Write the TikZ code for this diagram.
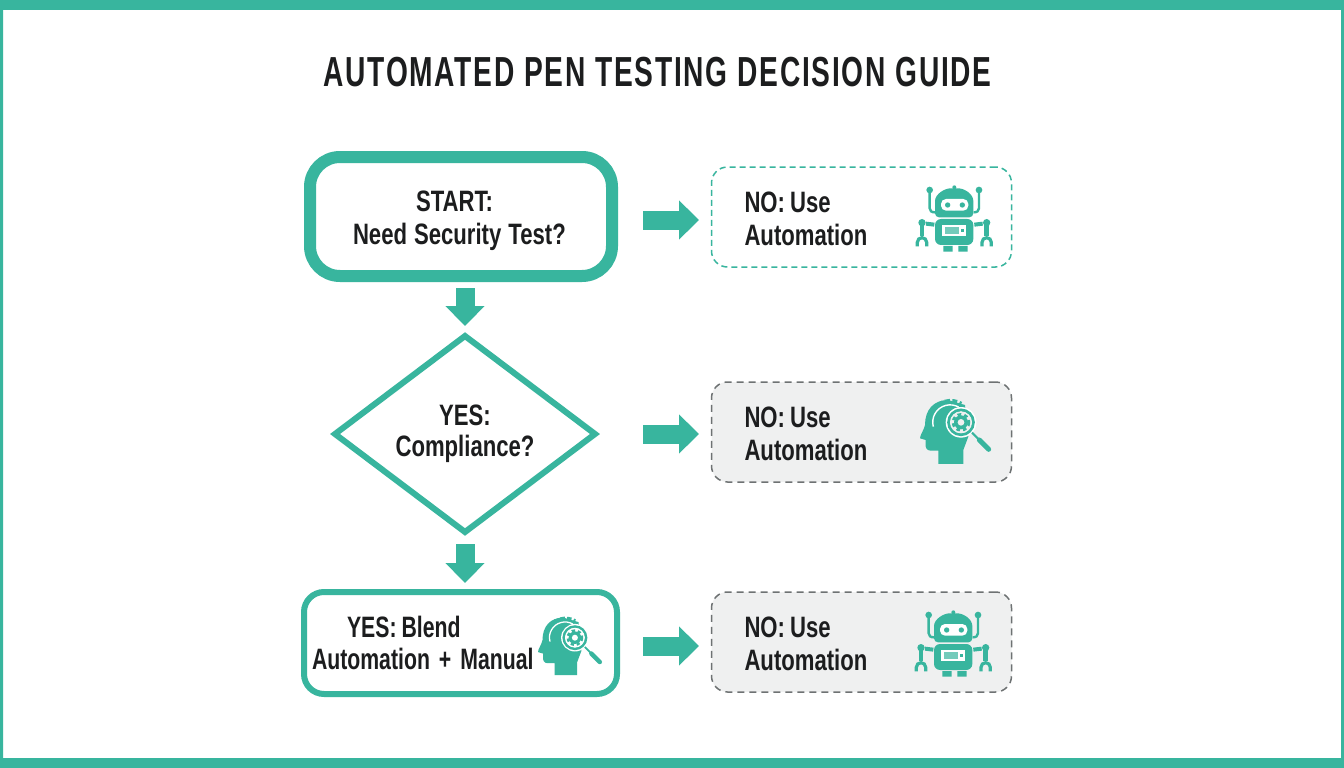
\documentclass[tikz,border=0pt]{standalone}
\usepackage{fontspec}
\setmainfont[FakeStretch=0.75]{Liberation Sans}
\newfontfamily\titlefont[FakeStretch=0.67,LetterSpace=4.2]{Liberation Sans}
\newfontfamily\narrowfont[FakeStretch=0.72]{Liberation Sans}
\usetikzlibrary{shapes.geometric,arrows.meta,calc}
\definecolor{tealc}{HTML}{38B59E}
\definecolor{inkc}{HTML}{1C1D1E}
\definecolor{grayfill}{HTML}{EFF0F0}
\definecolor{graydash}{HTML}{6E7273}
\newcommand{\tpad}[1]{\vrule width 0pt height #1\relax}
\newcommand{\tightwords}[1]{\setlength{\spaceskip}{#1}}
\tikzset{
  x=1pt,y=-1pt,
  lbl/.style={font=\fontsize{29.5pt}{33pt}\selectfont\bfseries,text=inkc},
  nobox/.style={lbl,rectangle,rounded corners=16pt,line width=1.5pt,outer sep=0pt,
    minimum width=300pt,text width=234pt,inner xsep=33pt,align=left,anchor=center},
  nobluebox/.style={nobox,draw=tealc,dash pattern=on 6pt off 4pt,fill=white,minimum height=100pt},
  nograybox/.style={nobox,draw=graydash,dash pattern=on 7pt off 5pt,fill=grayfill,minimum height=100pt},
  blockarrow/.style={draw=tealc,line width=19pt,-{Triangle[width=38pt,length=20pt]}},
  ic/.style={fill=tealc,draw=none},
}
\newcommand{\roboticon}[2]{%
\begin{scope}[shift={(#1,#2)},x=0.3333pt,y=-0.3333pt]
  \fill[ic] (148,22) circle[radius=6];
  \fill[ic,rounded corners=4pt] (90,112) -- (90,75) .. controls (90,42) and (120,25) .. (148,25) .. controls (178,25) and (205,42) .. (205,75) -- (205,112) -- cycle;
  \fill[white,rounded corners=5pt] (108,57) rectangle (190,92);
  \fill[ic] (128,75) circle[radius=8] (172,75) circle[radius=8];
  \fill[ic,rounded corners=6pt] (90,117) rectangle (205,195);
  \fill[white] (112,135) rectangle (183,168);
  \fill[tealc!70!white] (119,142) rectangle (162,161);
  \fill[ic] (168,146) rectangle (176,157);
  \fill[ic] (115,198) rectangle (143,215) (160,198) rectangle (188,215);
  \foreach \s in {-1,1}{
    \fill[ic] ({148+\s*74},30) circle[radius=10];
    \draw[tealc,line width=2.4pt] ({148+\s*74},30) -- ({148+\s*74},85) .. controls ({148+\s*74},93) and ({148+\s*68},97) .. ({148+\s*58},97);
    \fill[ic] ({148+\s*97},128) circle[radius=11];
    \draw[tealc,line width=4pt] ({148+\s*85},131) -- ({148+\s*60},134);
    \draw[tealc,line width=4.5pt] ({148+\s*97},135) -- ({148+\s*97},168);
    \draw[tealc,line width=3.2pt] ({148+\s*97-14},199) -- ({148+\s*97-14},187) arc[start angle=180,end angle=360,radius=14] -- ({148+\s*97+14},199);
  }
\end{scope}}
\newcommand{\headicon}[4]{%
\begin{scope}[shift={(#1,#2)},x=#3*0.3333pt,y=-#3*0.3333pt]
  \fill[ic] (85,222) -- (85,182) -- (62,182) .. controls (50,182) and (45,172) .. (47,160) -- (47,150) -- (30,145) .. controls (30,135) and (42,120) .. (45,105) .. controls (45,60) and (70,30) .. (115,30) -- (165,45) -- (175,140) -- (160,180) -- (160,222) -- cycle;
  \draw[tealc,line width=#3*3.4pt,dash pattern=on #3*5pt off #3*2.5pt] (59,80) arc[start angle=195,end angle=300,radius=65];
  \draw[white,line width=#3*1.4pt] (70,110) arc[start angle=165,end angle=300,radius=52];
  \fill[white] (153,97) circle[radius=46];
  \draw[tealc,line width=#3*3pt] (153,97) circle[radius=37];
  \fill[#4] (153,97) circle[radius=33];
  \draw[tealc,line width=#3*2.6pt,dash pattern=on #3*3.6pt off #3*3.2pt] (153,97) circle[radius=24];
  \fill[ic] (153,97) circle[radius=21];
  \fill[#4] (153,97) circle[radius=10];
  \draw[tealc,line width=#3*2pt] (186,128) -- (208,150);
  \draw[tealc,line width=#3*5pt,line cap=round] (208,150) -- (236,178);
\end{scope}}
\begin{document}
\begin{tikzpicture}
\useasboundingbox (0,0) rectangle (1344,768);
\fill[white] (0,0) rectangle (1344,768);
\fill[tealc] (0,0) rectangle (1344,10) (0,758) rectangle (1344,768) (0,0) rectangle (3,768) (1341,0) rectangle (1344,768);

\node[font=\titlefont\fontsize{42pt}{46pt}\selectfont\bfseries,text=inkc] (title) at (657.5,72) {AUTOMATED PEN TESTING DECISION GUIDE};

\node[lbl,draw=tealc,line width=12pt,rounded corners=30pt,rectangle,outer sep=0pt,fill=white,
  minimum width=302pt,minimum height=119pt,text width=240pt,inner xsep=31pt,align=left] (start) at (461,216.5)
  {\tightwords{7pt}\tpad{30pt}\hspace*{75pt}START:\\\hspace*{12pt}Need Security Test?};
\node[lbl,draw=tealc,line width=6pt,shape=diamond,outer sep=0pt,inner sep=0pt,fill=white,
  minimum width=260pt,minimum height=196pt,align=center,aspect=1.32] (dec) at (465,434)
  {YES:\\[-1.5pt]Compliance?};
\node[lbl,draw=tealc,line width=6pt,rounded corners=20pt,rectangle,outer sep=0pt,fill=white,
  minimum width=313pt,minimum height=102pt,text width=297pt,inner xsep=8pt,align=left] (blend) at (460.5,643)
  {\narrowfont\bfseries\tightwords{5pt}\hspace*{35pt}YES: Blend\\[-1pt]\tightwords{9pt}Automation + Manual};

\node[nobluebox] (n1) at (861.5,217) {\tightwords{5pt}\tpad{24.5pt}NO: Use\\Automation};
\node[nograybox] (n2) at (861.5,432) {\tightwords{5pt}\tpad{24.5pt}NO: Use\\Automation};
\node[nograybox] (n3) at (861.5,642) {\tightwords{5pt}\tpad{24.5pt}NO: Use\\Automation};

\draw[blockarrow,shorten <=31pt,shorten >=12.5pt] ([yshift=-3.5pt]start.east) -- ([yshift=-3.5pt]start.east -| n1.west);
\draw[blockarrow,shorten <=48pt,shorten >=12.5pt] (dec.east) -- (dec.east -| n2.west);
\draw[blockarrow,shorten <=26pt,shorten >=12.5pt] ([yshift=-3pt]blend.east) -- ([yshift=-3pt]blend.east -| n3.west);
\draw[blockarrow,shorten <=12pt,shorten >=10pt] ([xshift=4pt]start.south) -- (dec.north);
\draw[blockarrow,shorten <=12pt,shorten >=9pt] (dec.south) -- (dec.south |- blend.north);

\roboticon{905}{180}
\roboticon{904}{605}
\headicon{910}{390}{1}{grayfill}
\headicon{529}{608.6}{0.9}{white}
\end{tikzpicture}
\end{document}
